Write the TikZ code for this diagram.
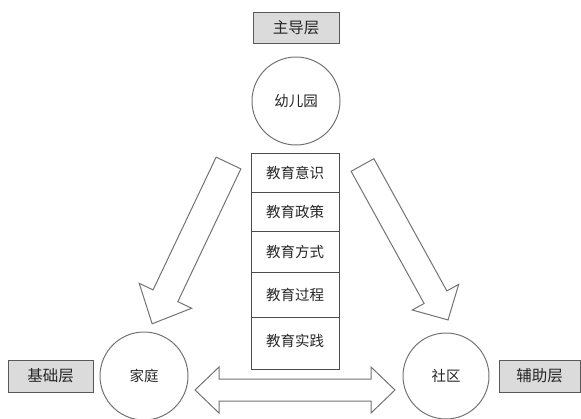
\documentclass[tikz,border=0pt]{standalone}
\usepackage{fontspec}
\setmainfont{Noto Sans CJK SC}
\begin{document}
\begin{tikzpicture}[x=1pt,y=-1pt,
  every node/.style={font=\fontsize{14.5}{16}\selectfont, text=black!85},
  layerbox/.style={draw=black!65, fill=black!14, line width=1pt, minimum width=86pt, minimum height=31pt, inner sep=0pt, font=\fontsize{15.5}{17}\selectfont},
  unit/.style={draw=black!55, circle, line width=1pt, minimum size=88pt, inner sep=0pt},
  cell/.style={draw=black!70, line width=1pt, minimum width=88pt, inner sep=0pt},
  blockarrow/.style={draw=black!55, line width=1pt, fill=white, line join=miter}
]
\useasboundingbox (0,0) rectangle (581,418);

% top
\node[layerbox] (lead) at (296,28) {主导层};
\node[unit] (kg) at (296,101) {幼儿园};

% stack
\node[cell, minimum height=39pt] (c1) at (295,172.5) {教育意识};
\node[cell, minimum height=39pt] (c2) at (295,211.5) {教育政策};
\node[cell, minimum height=41pt] (c3) at (295,251.5) {教育方式};
\node[cell, minimum height=45pt] (c4) at (295,294.5) {教育过程};
\node[cell, minimum height=52pt, text depth=6pt] (c5) at (295,343) {教育实践};

% bottom
\node[unit] (home) at (144,376) {家庭};
\node[unit, minimum size=86pt] (comm) at (446,376) {社区};
\node[layerbox, minimum width=85pt, minimum height=32pt] (base) at (50.5,376) {基础层};
\node[layerbox, minimum width=81pt, minimum height=32pt] (aux) at (539.5,376) {辅助层};

% block arrows
\coordinate (la) at (228.5,163);
\coordinate (ra) at (362.5,165);
\begin{scope}[shift={(la)}, rotate=244.6]
  \draw[blockarrow] (0,-13.7) -- (147,-13.7) -- (147,-29) -- (178,0) -- (147,29) -- (147,13.7) -- (0,13.7) -- cycle;
\end{scope}
\begin{scope}[shift={(ra)}, rotate=-61.1]
  \draw[blockarrow] (0,-13) -- (151,-13) -- (151,-26.5) -- (177,0) -- (151,26.5) -- (151,13) -- (0,13) -- cycle;
\end{scope}
\coordinate (dl) at (195,390);
\coordinate (dr) at (395,390);
\draw[blockarrow] (dl) -- ++(24,-23) -- ++(0,12) -- ++(152,0) -- ++(0,-12) -- (dr)
  -- ++(-24,23) -- ++(0,-12) -- ++(-152,0) -- ++(0,12) -- cycle;
\end{tikzpicture}
\end{document}
